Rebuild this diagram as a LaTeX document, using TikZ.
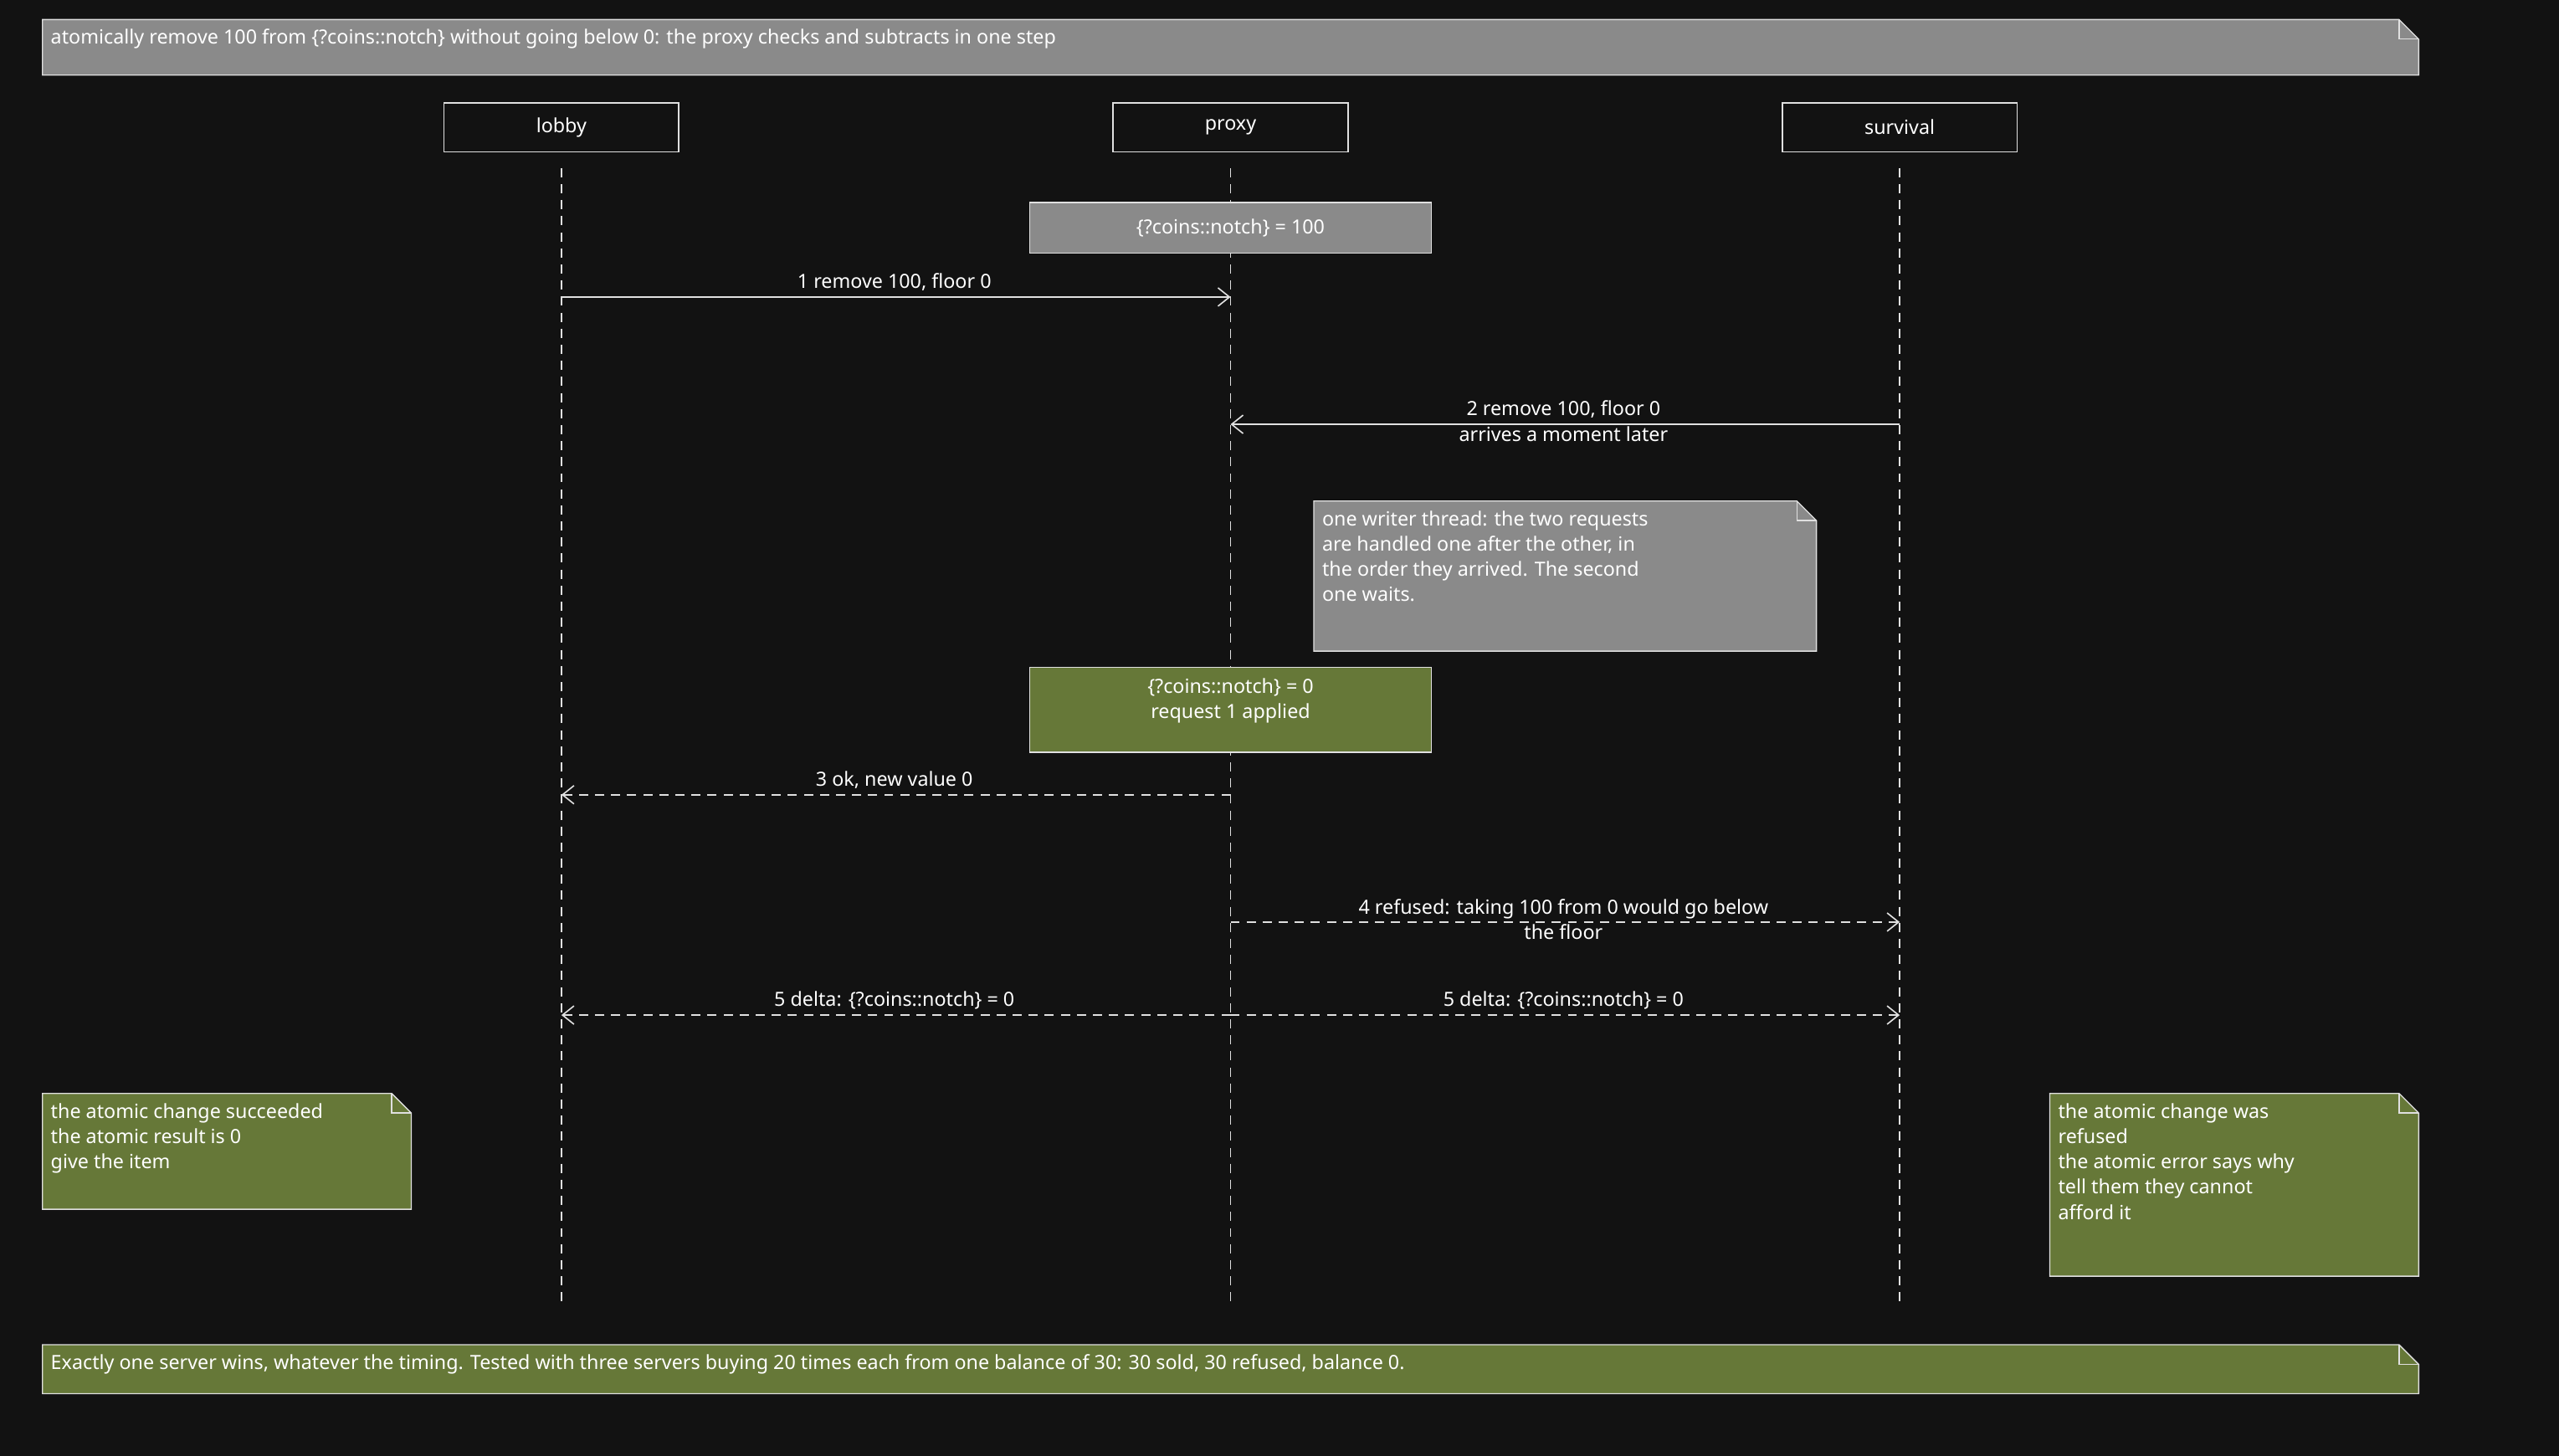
\documentclass[tikz,border=0pt]{standalone}
\usepackage{fontspec}
\setmainfont{Noto Sans}
\usetikzlibrary{arrows.meta}
\definecolor{bg}{HTML}{121212}
\definecolor{ng}{HTML}{8A8A8A}
\definecolor{gn}{HTML}{667838}
\definecolor{ln}{HTML}{E0E0E0}
\begin{document}
\begin{tikzpicture}[x=0.05cm,y=-0.05cm,
  txt/.style={text=white,font=\fontsize{17}{22}\selectfont,inner sep=0},
  part/.style={draw=ln,line width=1.2pt},
  life/.style={draw=ln,line width=1pt,dash pattern=on 8pt off 6pt},
  msg/.style={draw=ln,line width=1.2pt,-{Straight Barb[length=10pt,width=16pt]}},
  ret/.style={msg,dash pattern=on 8pt off 6pt},
  box/.style={draw=ln,line width=1pt}]
\fill[bg] (0,0) rectangle (1568,892);
\useasboundingbox (0,0) rectangle (1568,892);
\newcommand{\fnote}[5]{% x1 y1 x2 y2 color
  \filldraw[box,fill=#5] (#1,#2) -- (#3-12,#2) -- (#3,#2+12) -- (#3,#4) -- (#1,#4) -- cycle;
  \draw[box] (#3-12,#2) -- (#3-12,#2+12) -- (#3,#2+12);}
% title
\fnote{26}{12}{1482}{46}{ng}
\node[txt,anchor=west] (title) at (31,24) {atomically remove 100 from \{?coins::notch\} without going below 0: the proxy checks and subtracts in one step};
% participants
\foreach \n/\x in {lobby/344,proxy/754,survival/1164}{
  \draw[life] (\x,103) -- (\x,798);
  \node[part,minimum width=144*0.05cm,minimum height=30*0.05cm,txt,inner sep=0] (\n) at (\x,78) {\n};
  \coordinate (\n-top) at (\x,103);
}
% note 100
\node[box,fill=ng,minimum width=246*0.05cm,minimum height=31*0.05cm,txt] (n100) at (754,139.5) {\{?coins::notch\} = 100};
% msg1
\coordinate (a1) at (344,182); \coordinate (b1) at (754,182);
\draw[msg] (a1) -- (b1);
\node[txt] (l1) at (548,173) {1 remove 100, floor 0};
% msg2
\coordinate (a2) at (1164,260); \coordinate (b2) at (754,260);
\draw[msg] (a2) -- (b2);
\node[txt,align=center] (l2) at (958,258) {2 remove 100, floor 0\\arrives a moment later};
% gray note
\fnote{805}{307}{1113}{399}{ng}
\node[txt,anchor=north west,align=left] (nw) at (810,313) {one writer thread: the two requests\\are handled one after the other, in\\the order they arrived. The second\\one waits.};
% green note
\node[box,fill=gn,minimum width=246*0.05cm,minimum height=52*0.05cm] (n0) at (754,435) {};
\node[txt,align=center] (n0t) at (754,429.5) {\{?coins::notch\} = 0\\request 1 applied};
% msg3
\coordinate (a3) at (754,487); \coordinate (b3) at (344,487);
\draw[ret] (a3) -- (b3);
\node[txt] (l3) at (548,478) {3 ok, new value 0};
% msg4
\coordinate (a4) at (754,565); \coordinate (b4) at (1164,565);
\draw[ret] (a4) -- (b4);
\node[txt,align=center] (l4) at (958,563.5) {4 refused: taking 100 from 0 would go below\\the floor};
% msg5
\coordinate (a5) at (754,622); \coordinate (b5) at (344,622); \coordinate (c5) at (1164,622);
\draw[ret] (a5) -- (b5);
\draw[ret] (a5) -- (c5);
\node[txt] (l5a) at (548,613) {5 delta: \{?coins::notch\} = 0};
\node[txt] (l5b) at (958,613) {5 delta: \{?coins::notch\} = 0};
% side notes
\fnote{26}{670}{252}{741}{gn}
\node[txt,anchor=north west,align=left] (ln) at (31,676) {the atomic change succeeded\\the atomic result is 0\\give the item};
\fnote{1256}{670}{1482}{782}{gn}
\node[txt,anchor=north west,align=left] (rn) at (1261,676) {the atomic change was\\refused\\the atomic error says why\\tell them they cannot\\afford it};
% bottom
\fnote{26}{824}{1482}{854}{gn}
\node[txt,anchor=west] (bot) at (31,836) {Exactly one server wins, whatever the timing. Tested with three servers buying 20 times each from one balance of 30: 30 sold, 30 refused, balance 0.};
\end{tikzpicture}
\end{document}
